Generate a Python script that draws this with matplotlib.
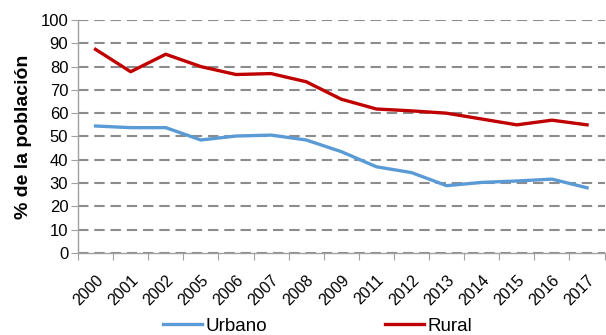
import numpy as np
import matplotlib.pyplot as plt

plt.rcParams['font.family'] = ['Liberation Sans', 'DejaVu Sans']

# años y porcentajes
anios = ['2000', '2001', '2002', '2005', '2006', '2007', '2008', '2009',
         '2011', '2012', '2013', '2014', '2015', '2016', '2017']
urbano = [54.5, 53.8, 53.8, 48.5, 50.2, 50.6, 48.5, 43.5,
          37.0, 34.5, 28.9, 30.3, 30.9, 31.7, 28.0]
rural = [87.4, 77.8, 85.3, 80.0, 76.6, 77.0, 73.5, 66.0,
         61.8, 61.0, 60.0, 57.5, 55.0, 57.0, 55.0]

fig = plt.figure(figsize=(6.06, 3.35), dpi=100)
ax = fig.add_axes([0.1287, 0.2448, 0.869, 0.6955])

x = np.arange(len(anios))
ax.plot(x, urbano, color='#5B9BD5', lw=2.4, label='Urbano')
ax.plot(x, rural, color='#C00000', lw=2.4, label='Rural')

ax.set_xlim(-0.5, len(anios) - 0.5)
ax.set_ylim(0, 100)
ax.set_yticks(np.arange(0, 101, 10))
ax.yaxis.grid(True, color='#8c8c8c', linestyle=(0, (5, 2.8)), lw=1.5)
ax.set_axisbelow(True)

# marcas entre categorías, etiquetas en el centro
ax.set_xticks(np.arange(-0.5, len(anios), 1.0))
ax.set_xticklabels([])
ax.set_xticks(x, minor=True)
ax.set_xticklabels(anios, minor=True, rotation=45, ha='right',
                   rotation_mode='anchor', fontsize=11.5)
ax.tick_params(axis='x', which='major', length=5, color='#a0a0a0', direction='out')
ax.tick_params(axis='x', which='minor', length=0, pad=14)
ax.tick_params(axis='y', length=5, color='#a0a0a0', labelsize=12, pad=2)

for s in ['top', 'right']:
    ax.spines[s].set_visible(False)
for s in ['left', 'bottom']:
    ax.spines[s].set_color('#a0a0a0')
    ax.spines[s].set_linewidth(1.0)

ax.set_ylabel('% de la población', fontsize=14, fontweight='bold', labelpad=6)

fig.legend(loc='lower center', bbox_to_anchor=(0.524, -0.05), ncol=2,
           frameon=False, fontsize=13.5, handlelength=2.1, handletextpad=0.15,
           columnspacing=6.3)

fig.savefig('out.png', dpi=100)
